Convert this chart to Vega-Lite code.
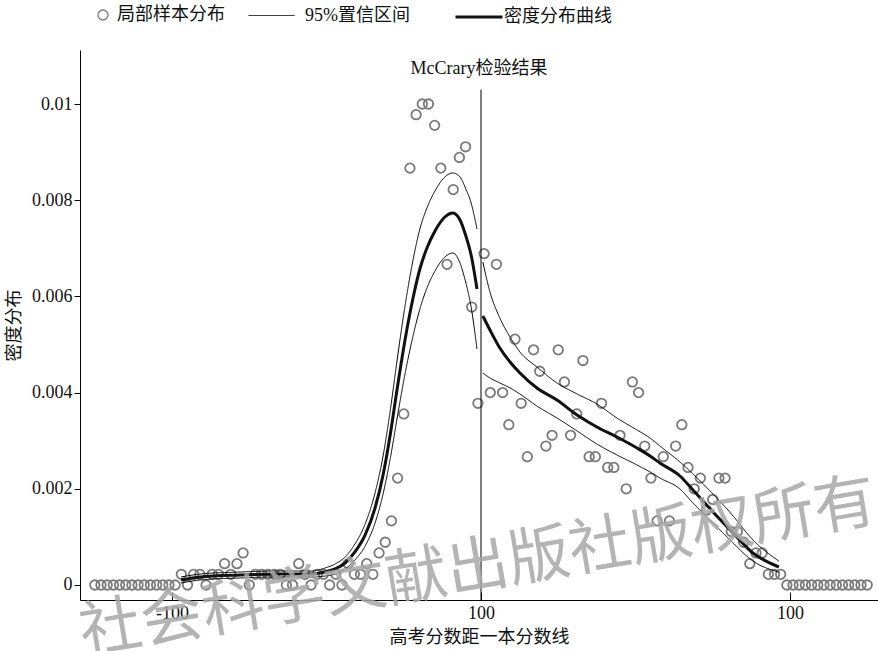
{
  "$schema": "https://vega.github.io/schema/vega-lite/v6.json",
  "width": 798,
  "height": 550,
  "autosize": {"type": "none"},
  "padding": {"left": 80, "top": 50, "right": 0, "bottom": 51},
  "background": "white",
  "title": {
    "text": "McCrary检验结果",
    "anchor": "middle",
    "offset": -86,
    "font": "Liberation Serif, Noto Sans CJK SC",
    "fontSize": 18,
    "fontWeight": "normal",
    "color": "#111"
  },
  "config": {
    "view": {"stroke": null},
    "axis": {
      "domainColor": "#000",
      "domainWidth": 1,
      "tickColor": "#000",
      "grid": false,
      "labelColor": "#111",
      "labelFont": "Liberation Serif",
      "labelFontSize": 18,
      "titleColor": "#111",
      "titleFont": "Noto Sans CJK SC",
      "titleFontSize": 18,
      "titleFontWeight": "normal"
    },
    "legend": {
      "orient": "none",
      "padding": 0,
      "labelColor": "#111",
      "labelFont": "Liberation Serif, Noto Sans CJK SC",
      "labelFontSize": 18,
      "labelLimit": 300
    }
  },
  "datasets": {
    "bins": [
      {"x": -125, "y": 0}, {"x": -123, "y": 0}, {"x": -121, "y": 0}, {"x": -119, "y": 0},
      {"x": -117, "y": 0}, {"x": -115, "y": 0}, {"x": -113, "y": 0}, {"x": -111, "y": 0},
      {"x": -109, "y": 0}, {"x": -107, "y": 0}, {"x": -105, "y": 0}, {"x": -103, "y": 0},
      {"x": -101, "y": 0}, {"x": -99, "y": 0},
      {"x": -97, "y": 0.000222}, {"x": -95, "y": 0}, {"x": -93, "y": 0.000222}, {"x": -91, "y": 0.000222},
      {"x": -89, "y": 0}, {"x": -87, "y": 0.000222}, {"x": -85, "y": 0.000222}, {"x": -83, "y": 0.000444},
      {"x": -81, "y": 0.000222}, {"x": -79, "y": 0.000444}, {"x": -77, "y": 0.000667}, {"x": -75, "y": 0},
      {"x": -73, "y": 0.000222}, {"x": -71, "y": 0.000222}, {"x": -69, "y": 0.000222}, {"x": -67, "y": 0.000222},
      {"x": -65, "y": 0.000222}, {"x": -63, "y": 0}, {"x": -61, "y": 0}, {"x": -59, "y": 0.000444},
      {"x": -57, "y": 0.000222}, {"x": -55, "y": 0}, {"x": -53, "y": 0.000222}, {"x": -51, "y": 0.000222},
      {"x": -49, "y": 0}, {"x": -47, "y": 0.000222}, {"x": -45, "y": 0}, {"x": -43, "y": 0.000444},
      {"x": -41, "y": 0.000222}, {"x": -39, "y": 0.000222}, {"x": -37, "y": 0.000444}, {"x": -35, "y": 0.000222},
      {"x": -33, "y": 0.000667}, {"x": -31, "y": 0.000889}, {"x": -29, "y": 0.001333}, {"x": -27, "y": 0.002222},
      {"x": -25, "y": 0.003556}, {"x": -23, "y": 0.008667}, {"x": -21, "y": 0.009778}, {"x": -19, "y": 0.01},
      {"x": -17, "y": 0.01}, {"x": -15, "y": 0.009556}, {"x": -13, "y": 0.008667}, {"x": -11, "y": 0.006667},
      {"x": -9, "y": 0.008222}, {"x": -7, "y": 0.008889}, {"x": -5, "y": 0.009111}, {"x": -3, "y": 0.005778},
      {"x": -1, "y": 0.003778},
      {"x": 1, "y": 0.006889}, {"x": 3, "y": 0.004}, {"x": 5, "y": 0.006667}, {"x": 7, "y": 0.004},
      {"x": 9, "y": 0.003333}, {"x": 11, "y": 0.005111}, {"x": 13, "y": 0.003778}, {"x": 15, "y": 0.002667},
      {"x": 17, "y": 0.004889}, {"x": 19, "y": 0.004444}, {"x": 21, "y": 0.002889}, {"x": 23, "y": 0.003111},
      {"x": 25, "y": 0.004889}, {"x": 27, "y": 0.004222}, {"x": 29, "y": 0.003111}, {"x": 31, "y": 0.003556},
      {"x": 33, "y": 0.004667}, {"x": 35, "y": 0.002667}, {"x": 37, "y": 0.002667}, {"x": 39, "y": 0.003778},
      {"x": 41, "y": 0.002444}, {"x": 43, "y": 0.002444}, {"x": 45, "y": 0.003111}, {"x": 47, "y": 0.002},
      {"x": 49, "y": 0.004222}, {"x": 51, "y": 0.004}, {"x": 53, "y": 0.002889}, {"x": 55, "y": 0.002222},
      {"x": 57, "y": 0.001333}, {"x": 59, "y": 0.002667}, {"x": 61, "y": 0.001333}, {"x": 63, "y": 0.002889},
      {"x": 65, "y": 0.003333}, {"x": 67, "y": 0.002444}, {"x": 69, "y": 0.002}, {"x": 71, "y": 0.002222},
      {"x": 73, "y": 0.001556}, {"x": 75, "y": 0.001778}, {"x": 77, "y": 0.002222}, {"x": 79, "y": 0.002222},
      {"x": 81, "y": 0.001111}, {"x": 83, "y": 0.001111}, {"x": 85, "y": 0.000889}, {"x": 87, "y": 0.000444},
      {"x": 89, "y": 0.000667}, {"x": 91, "y": 0.000667}, {"x": 93, "y": 0.000222}, {"x": 95, "y": 0.000222},
      {"x": 97, "y": 0.000222},
      {"x": 99, "y": 0}, {"x": 101, "y": 0}, {"x": 103, "y": 0}, {"x": 105, "y": 0},
      {"x": 107, "y": 0}, {"x": 109, "y": 0}, {"x": 111, "y": 0}, {"x": 113, "y": 0},
      {"x": 115, "y": 0}, {"x": 117, "y": 0}, {"x": 119, "y": 0}, {"x": 121, "y": 0},
      {"x": 123, "y": 0}, {"x": 125, "y": 0}
    ],
    "curve": [
      {"side": "L", "x": -97.1, "est": 0.000104, "lo": 0.000042, "hi": 0.000166},
      {"side": "L", "x": -90.9, "est": 0.000166, "lo": 0.000104, "hi": 0.000228},
      {"side": "L", "x": -78.0, "est": 0.000208, "lo": 0.000146, "hi": 0.00027},
      {"side": "L", "x": -65.0, "est": 0.000229, "lo": 0.000167, "hi": 0.000291},
      {"side": "L", "x": -55.3, "est": 0.000229, "lo": 0.000167, "hi": 0.000291},
      {"side": "L", "x": -50.5, "est": 0.00027, "lo": 0.000187, "hi": 0.000353},
      {"side": "L", "x": -47.2, "est": 0.000333, "lo": 0.000229, "hi": 0.000437},
      {"side": "L", "x": -44.0, "est": 0.000457, "lo": 0.000332, "hi": 0.000582},
      {"side": "L", "x": -40.8, "est": 0.000686, "lo": 0.00052, "hi": 0.000852},
      {"side": "L", "x": -37.5, "est": 0.00104, "lo": 0.000811, "hi": 0.001269},
      {"side": "L", "x": -34.3, "est": 0.001601, "lo": 0.001289, "hi": 0.001913},
      {"side": "L", "x": -31.7, "est": 0.002287, "lo": 0.001892, "hi": 0.002682},
      {"side": "L", "x": -29.4, "est": 0.003119, "lo": 0.00262, "hi": 0.003618},
      {"side": "L", "x": -27.2, "est": 0.004054, "lo": 0.003451, "hi": 0.004657},
      {"side": "L", "x": -24.6, "est": 0.005094, "lo": 0.004387, "hi": 0.005801},
      {"side": "L", "x": -22.0, "est": 0.005967, "lo": 0.005177, "hi": 0.006757},
      {"side": "L", "x": -19.7, "est": 0.00659, "lo": 0.005758, "hi": 0.007422},
      {"side": "L", "x": -17.5, "est": 0.007006, "lo": 0.006174, "hi": 0.007838},
      {"side": "L", "x": -14.9, "est": 0.00736, "lo": 0.006528, "hi": 0.008192},
      {"side": "L", "x": -11.7, "est": 0.007651, "lo": 0.006819, "hi": 0.008483},
      {"side": "L", "x": -9.1, "est": 0.007734, "lo": 0.006902, "hi": 0.008566},
      {"side": "L", "x": -6.8, "est": 0.007588, "lo": 0.006694, "hi": 0.008482},
      {"side": "L", "x": -4.9, "est": 0.007256, "lo": 0.006279, "hi": 0.008233},
      {"side": "L", "x": -3.2, "est": 0.006861, "lo": 0.00578, "hi": 0.007942},
      {"side": "L", "x": -1.3, "est": 0.006154, "lo": 0.004907, "hi": 0.007401},
      {"side": "R", "x": 0.6, "est": 0.005593, "lo": 0.004407, "hi": 0.006715},
      {"side": "R", "x": 2.9, "est": 0.005301, "lo": 0.004304, "hi": 0.006091},
      {"side": "R", "x": 6.1, "est": 0.004927, "lo": 0.0042, "hi": 0.005551},
      {"side": "R", "x": 9.4, "est": 0.004636, "lo": 0.004096, "hi": 0.005156},
      {"side": "R", "x": 12.6, "est": 0.004407, "lo": 0.003971, "hi": 0.004844},
      {"side": "R", "x": 18.1, "est": 0.004096, "lo": 0.003721, "hi": 0.004532},
      {"side": "R", "x": 24.6, "est": 0.003846, "lo": 0.003472, "hi": 0.0042},
      {"side": "R", "x": 31.1, "est": 0.003534, "lo": 0.003202, "hi": 0.003971},
      {"side": "R", "x": 37.5, "est": 0.003285, "lo": 0.002931, "hi": 0.003763},
      {"side": "R", "x": 44.0, "est": 0.003077, "lo": 0.002703, "hi": 0.003472},
      {"side": "R", "x": 50.5, "est": 0.002848, "lo": 0.002495, "hi": 0.003222},
      {"side": "R", "x": 54.7, "est": 0.002682, "lo": 0.002349, "hi": 0.003056},
      {"side": "R", "x": 57.9, "est": 0.002536, "lo": 0.002225, "hi": 0.00289},
      {"side": "R", "x": 64.4, "est": 0.002266, "lo": 0.001996, "hi": 0.002557},
      {"side": "R", "x": 68.6, "est": 0.001975, "lo": 0.001705, "hi": 0.002308},
      {"side": "R", "x": 75.1, "est": 0.001518, "lo": 0.001289, "hi": 0.001892},
      {"side": "R", "x": 81.6, "est": 0.001081, "lo": 0.000873, "hi": 0.001435},
      {"side": "R", "x": 88.0, "est": 0.000665, "lo": 0.000499, "hi": 0.000936},
      {"side": "R", "x": 96.4, "est": 0.000374, "lo": 0.00027, "hi": 0.000499}
    ]
  },
  "layer": [
    {
      "data": {"name": "bins"},
      "mark": {"type": "point", "filled": false, "color": "#7a7a7a", "opacity": 1, "strokeWidth": 1.8, "size": 90, "clip": false},
      "encoding": {
        "x": {
          "field": "x", "type": "quantitative",
          "scale": {"domain": [-129.8, 128.5], "nice": false, "zero": false},
          "axis": {
            "title": "高考分数距一本分数线",
            "values": [-100, 0, 100],
            "labelExpr": "datum.value < 0 ? '-100' : '100'",
            "tickSize": -8,
            "labelPadding": 12,
            "titlePadding": 6
          }
        },
        "y": {
          "field": "y", "type": "quantitative",
          "scale": {"domain": [-0.000312, 0.011123], "nice": false, "zero": false},
          "axis": {
            "title": "密度分布",
            "values": [0, 0.002, 0.004, 0.006, 0.008, 0.01],
            "format": "~g",
            "tickSize": 6,
            "labelPadding": 2,
            "titlePadding": 8
          }
        },
        "shape": {
          "datum": "局部样本分布",
          "scale": {"range": ["circle"]},
          "legend": {
            "title": null,
            "legendX": 14,
            "legendY": -44,
            "symbolSize": 100,
            "symbolStrokeColor": "#7a7a7a",
            "symbolFillColor": "transparent",
            "symbolStrokeWidth": 1.3,
            "labelOffset": 5
          }
        }
      }
    },
    {
      "data": {"name": "curve"},
      "mark": {"type": "line", "color": "#000", "strokeWidth": 1, "interpolate": "monotone"},
      "encoding": {
        "x": {"field": "x", "type": "quantitative"},
        "y": {"field": "hi", "type": "quantitative"},
        "detail": {"field": "side"},
        "strokeDash": {
          "datum": "95%置信区间",
          "scale": {"range": [[1, 0]]},
          "legend": {
            "title": null,
            "legendX": 168,
            "legendY": -58,
            "symbolType": "stroke",
            "symbolSize": 2116,
            "symbolStrokeColor": "#000",
            "symbolStrokeWidth": 1,
            "labelOffset": 10
          }
        }
      }
    },
    {
      "data": {"name": "curve"},
      "mark": {"type": "line", "color": "#000", "strokeWidth": 1, "interpolate": "monotone"},
      "encoding": {
        "x": {"field": "x", "type": "quantitative"},
        "y": {"field": "lo", "type": "quantitative"},
        "detail": {"field": "side"},
        "strokeDash": {"datum": "95%置信区间"}
      }
    },
    {
      "data": {"name": "curve"},
      "mark": {"type": "line", "strokeWidth": 3, "interpolate": "monotone"},
      "encoding": {
        "x": {"field": "x", "type": "quantitative"},
        "y": {"field": "est", "type": "quantitative"},
        "detail": {"field": "side"},
        "color": {
          "datum": "密度分布曲线",
          "scale": {"range": ["#111"]},
          "legend": {
            "title": null,
            "legendX": 374,
            "legendY": -58,
            "symbolType": "stroke",
            "symbolSize": 2209,
            "symbolStrokeWidth": 3,
            "labelOffset": 0
          }
        }
      }
    },
    {
      "data": {"values": [{}]},
      "mark": {"type": "rule", "color": "#000", "strokeWidth": 1},
      "encoding": {
        "x": {"datum": 0},
        "y": {"datum": 0.0103},
        "y2": {"datum": -0.000312}
      }
    },
    {
      "data": {"values": [{}]},
      "mark": {
        "type": "text",
        "text": "社会科学文献出版社版权所有",
        "font": "Noto Sans CJK SC",
        "fontSize": 62,
        "angle": 350.5,
        "align": "center",
        "baseline": "middle",
        "color": "#a8a8a8",
        "opacity": 0.85
      },
      "encoding": {
        "x": {"datum": -1},
        "y": {"datum": 0.00035}
      }
    }
  ]
}
